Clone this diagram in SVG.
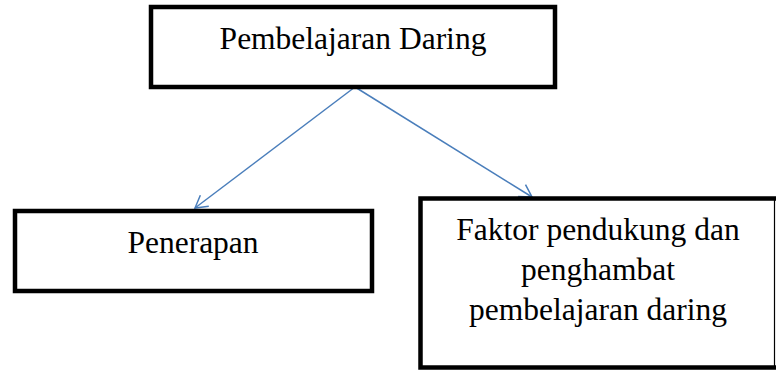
<svg xmlns="http://www.w3.org/2000/svg" width="776" height="371" viewBox="0 0 776 371">
<style>
.box{fill:#fff;stroke:#000;stroke-width:4.5}
.t{font-family:"Liberation Serif","Times New Roman",serif;font-size:31.5px;fill:#000;text-anchor:middle}
.c{fill:none;stroke:#4A7EBB;stroke-width:1.5}
</style>
<defs>
<marker id="ah" markerUnits="userSpaceOnUse" markerWidth="20" markerHeight="20" refX="13" refY="8" orient="auto" viewBox="0 0 20 16">
<path d="M1,1 L13,8 L1,15" fill="none" stroke="#4A7EBB" stroke-width="1.5"/>
</marker>
</defs>
<rect width="776" height="371" fill="#fff"/>
<g id="connectors">
<line class="c" x1="355" y1="87" x2="195" y2="208" marker-end="url(#ah)"/>
<line class="c" x1="355" y1="87" x2="532" y2="197" marker-end="url(#ah)"/>
</g>
<g id="node-top">
<rect class="box" x="151" y="7" width="404" height="80"/>
<text class="t" x="353" y="49">Pembelajaran Daring</text>
</g>
<g id="node-penerapan">
<rect class="box" x="15" y="211" width="357" height="80"/>
<text class="t" x="193" y="253">Penerapan</text>
</g>
<g id="node-faktor">
<rect class="box" x="420.5" y="198.5" width="360" height="169"/>
<line x1="774.5" y1="198" x2="774.5" y2="368" stroke="#000" stroke-width="1.2"/>
<text class="t" x="598" y="240">Faktor pendukung dan</text>
<text class="t" x="598" y="280">penghambat</text>
<text class="t" x="598" y="320">pembelajaran daring</text>
</g>
</svg>
